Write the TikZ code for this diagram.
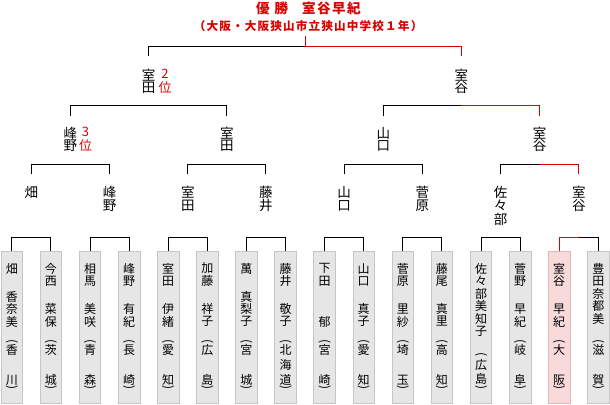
\documentclass[tikz,border=0pt]{standalone}
\usepackage{fontspec}
\setmainfont{Noto Sans CJK JP}
\definecolor{wred}{RGB}{221,0,0}
\definecolor{boxfill}{RGB}{230,230,230}
\definecolor{boxline}{RGB}{198,198,198}
\definecolor{winfill}{RGB}{248,218,218}
\definecolor{winline}{RGB}{224,186,186}
\newcommand\vstack[6]{\foreach \zch [count=\zk from 0] in {#6}{\node[#5] (#1-\zk) at (#2,{#3+#4*\zk}) {\zch};}}
\newcommand\boxat[2]{\pgfmathsetmacro\cx{11.8+39.1*(#1-1)}\node[#2] (b#1) at (\cx,327.5) {};}
\newcommand\pref[6]{\node[pb] (po#1) at (\cx,#2) {(};\vstack{pf#1}{\cx}{#3}{#4}{bn}{#5}\node[pb] (pc#1) at (\cx,#6) {)};}
\begin{document}
\begin{tikzpicture}[x=1pt,y=-1pt,
 tn/.style={inner sep=0pt, font=\fontsize{13.5}{13.5}\selectfont},
 bn/.style={inner sep=0pt, font=\fontsize{12}{12}\selectfont},
 rk/.style={inner sep=0pt, text=wred, font=\fontsize{13}{13}\selectfont},
 pb/.style={bn, rotate=-90},
 entry/.style={draw=boxline, fill=boxfill, line width=0.8pt, minimum width=21.6pt, minimum height=152pt, inner sep=0pt},
 winentry/.style={entry, draw=winline, fill=winfill},
 br/.style={line width=1pt, black},
 brw/.style={line width=1pt, wred},
 ttl/.style={inner sep=0pt, text=wred}]
\useasboundingbox (0,0) rectangle (610,404);
\fill[white] (0,0) rectangle (610,404);
% title
\node[ttl, font=\bfseries\fontsize{13.5}{13.5}\selectfont\addfontfeature{LetterSpace=11}] (title) at (308.3,8) {優\hspace{5pt}勝\hspace{14pt}室谷早紀};
\node[ttl, font=\bfseries\fontsize{11.6}{11.6}\selectfont\addfontfeature{LetterSpace=10}] (school) at (308.1,26.5) {（大阪・大阪狭山市立狭山中学校１年）};
% entry boxes
\boxat{1}{entry}\vstack{s1}{\cx}{268.5}{12.5}{bn}{畑}\vstack{g1}{\cx}{296.5}{12.5}{bn}{香,奈,美}\pref{1}{342}{350}{30}{香,川}{388}
\boxat{2}{entry}\vstack{s2}{\cx}{268.5}{12.5}{bn}{今,西}\vstack{g2}{\cx}{309}{12.5}{bn}{菜,保}\pref{2}{342}{350}{30}{茨,城}{388}
\boxat{3}{entry}\vstack{s3}{\cx}{268.5}{12.5}{bn}{相,馬}\vstack{g3}{\cx}{309}{12.5}{bn}{美,咲}\pref{3}{342}{350}{30}{青,森}{388}
\boxat{4}{entry}\vstack{s4}{\cx}{268.5}{12.5}{bn}{峰,野}\vstack{g4}{\cx}{309}{12.5}{bn}{有,紀}\pref{4}{342}{350}{30}{長,崎}{388}
\boxat{5}{entry}\vstack{s5}{\cx}{268.5}{12.5}{bn}{室,田}\vstack{g5}{\cx}{309}{12.5}{bn}{伊,緒}\pref{5}{342}{350}{30}{愛,知}{388}
\boxat{6}{entry}\vstack{s6}{\cx}{268.5}{12.5}{bn}{加,藤}\vstack{g6}{\cx}{309}{12.5}{bn}{祥,子}\pref{6}{342}{350}{30}{広,島}{388}
\boxat{7}{entry}\vstack{s7}{\cx}{268.5}{12.5}{bn}{萬}\vstack{g7}{\cx}{296.5}{12.5}{bn}{真,梨,子}\pref{7}{342}{350}{30}{宮,城}{388}
\boxat{8}{entry}\vstack{s8}{\cx}{268.5}{12.5}{bn}{藤,井}\vstack{g8}{\cx}{309}{12.5}{bn}{敬,子}\pref{8}{342}{350}{15}{北,海,道}{388}
\boxat{9}{entry}\vstack{s9}{\cx}{268.5}{12.5}{bn}{下,田}\vstack{g9}{\cx}{321.5}{12.5}{bn}{郁}\pref{9}{342}{350}{30}{宮,崎}{388}
\boxat{10}{entry}\vstack{s10}{\cx}{268.5}{12.5}{bn}{山,口}\vstack{g10}{\cx}{309}{12.5}{bn}{真,子}\pref{10}{342}{350}{30}{愛,知}{388}
\boxat{11}{entry}\vstack{s11}{\cx}{268.5}{12.5}{bn}{菅,原}\vstack{g11}{\cx}{309}{12.5}{bn}{里,紗}\pref{11}{342}{350}{30}{埼,玉}{388}
\boxat{12}{entry}\vstack{s12}{\cx}{268.5}{12.5}{bn}{藤,尾}\vstack{g12}{\cx}{309}{12.5}{bn}{真,里}\pref{12}{342}{350}{30}{高,知}{388}
\boxat{13}{entry}\vstack{s13}{\cx}{268.5}{12.5}{bn}{佐,々,部,美,知,子}\pref{13}{355}{365}{14}{広,島}{388}
\boxat{14}{entry}\vstack{s14}{\cx}{268.5}{12.5}{bn}{菅,野}\vstack{g14}{\cx}{309}{12.5}{bn}{早,紀}\pref{14}{342}{350}{30}{岐,阜}{388}
\boxat{15}{winentry}\vstack{s15}{\cx}{268.5}{12.5}{bn}{室,谷}\vstack{g15}{\cx}{309}{12.5}{bn}{早,紀}\pref{15}{342}{350}{30}{大,阪}{388}
\boxat{16}{entry}\vstack{s16}{\cx}{268.5}{12.5}{bn}{豊,田,奈,都,美}\pref{16}{342}{350}{30}{滋,賀}{388}
% round names
\vstack{q1}{31.35}{192.5}{13.3}{tn}{畑}
\vstack{q2}{109.55}{192.5}{13.3}{tn}{峰,野}
\vstack{q3}{187.75}{192.5}{13.3}{tn}{室,田}
\vstack{q4}{265.95}{192.5}{13.3}{tn}{藤,井}
\vstack{q5}{344.15}{192.5}{13.3}{tn}{山,口}
\vstack{q6}{422.35}{192.5}{13.3}{tn}{菅,原}
\vstack{q7}{500.55}{192.5}{13.3}{tn}{佐,々,部}
\vstack{q8}{578.75}{192.5}{13.3}{tn}{室,谷}
\vstack{r1}{70.45}{133}{13}{tn}{峰,野}
\vstack{r2}{226.85}{133}{13}{tn}{室,田}
\vstack{r3}{383.25}{133}{13}{tn}{山,口}
\vstack{r4}{539.65}{133}{13}{tn}{室,谷}
\vstack{f1}{148.65}{74.7}{13.3}{tn}{室,田}
\vstack{f2}{461.45}{74.7}{13.3}{tn}{室,谷}
\vstack{rk2}{165}{73.5}{13.7}{rk}{2,位}
\vstack{rk3}{85.5}{132}{13.5}{rk}{3,位}
% bracket coordinates
\foreach \j in {1,...,8} {\coordinate (u\j) at ({31.35+78.2*(\j-1)},174.3); \coordinate (k0-\j) at ({31.35+78.2*(\j-1)},237);}
\foreach \k in {1,...,4} {\coordinate (v\k) at ({70.45+156.4*(\k-1)},115.7); \coordinate (k1-\k) at ({70.45+156.4*(\k-1)},164.3);}
\coordinate (w1) at (148.65,56.3); \coordinate (w2) at (461.45,56.3);
\coordinate (k2-1) at (148.65,105.7); \coordinate (k2-2) at (461.45,105.7);
\coordinate (k3) at (305.05,46.3); \coordinate (champ) at (305.05,36);
% brackets
\foreach \j in {1,...,7} {\pgfmathtruncatemacro\ia{2*\j-1}\pgfmathtruncatemacro\ib{2*\j}
  \draw[br] (b\ia.north) |- (k0-\j); \draw[br] (b\ib.north) |- (k0-\j);}
\draw[brw] (b15.north) |- (k0-8); \draw[br] (b16.north) |- (k0-8);
\foreach \k in {1,2,3} {\pgfmathtruncatemacro\ia{2*\k-1}\pgfmathtruncatemacro\ib{2*\k}
  \draw[br] (u\ia) |- (k1-\k); \draw[br] (u\ib) |- (k1-\k);}
\draw[br] (u7) |- (k1-4); \draw[brw] (u8) |- (k1-4);
\draw[br] (v1) |- (k2-1); \draw[br] (v2) |- (k2-1);
\draw[br] (v3) |- (k2-2); \draw[brw] (v4) |- (k2-2);
\draw[br] (w1) |- (k3); \draw[brw] (w2) |- (k3); \draw[brw] (k3) -- (champ);
\end{tikzpicture}
\end{document}
